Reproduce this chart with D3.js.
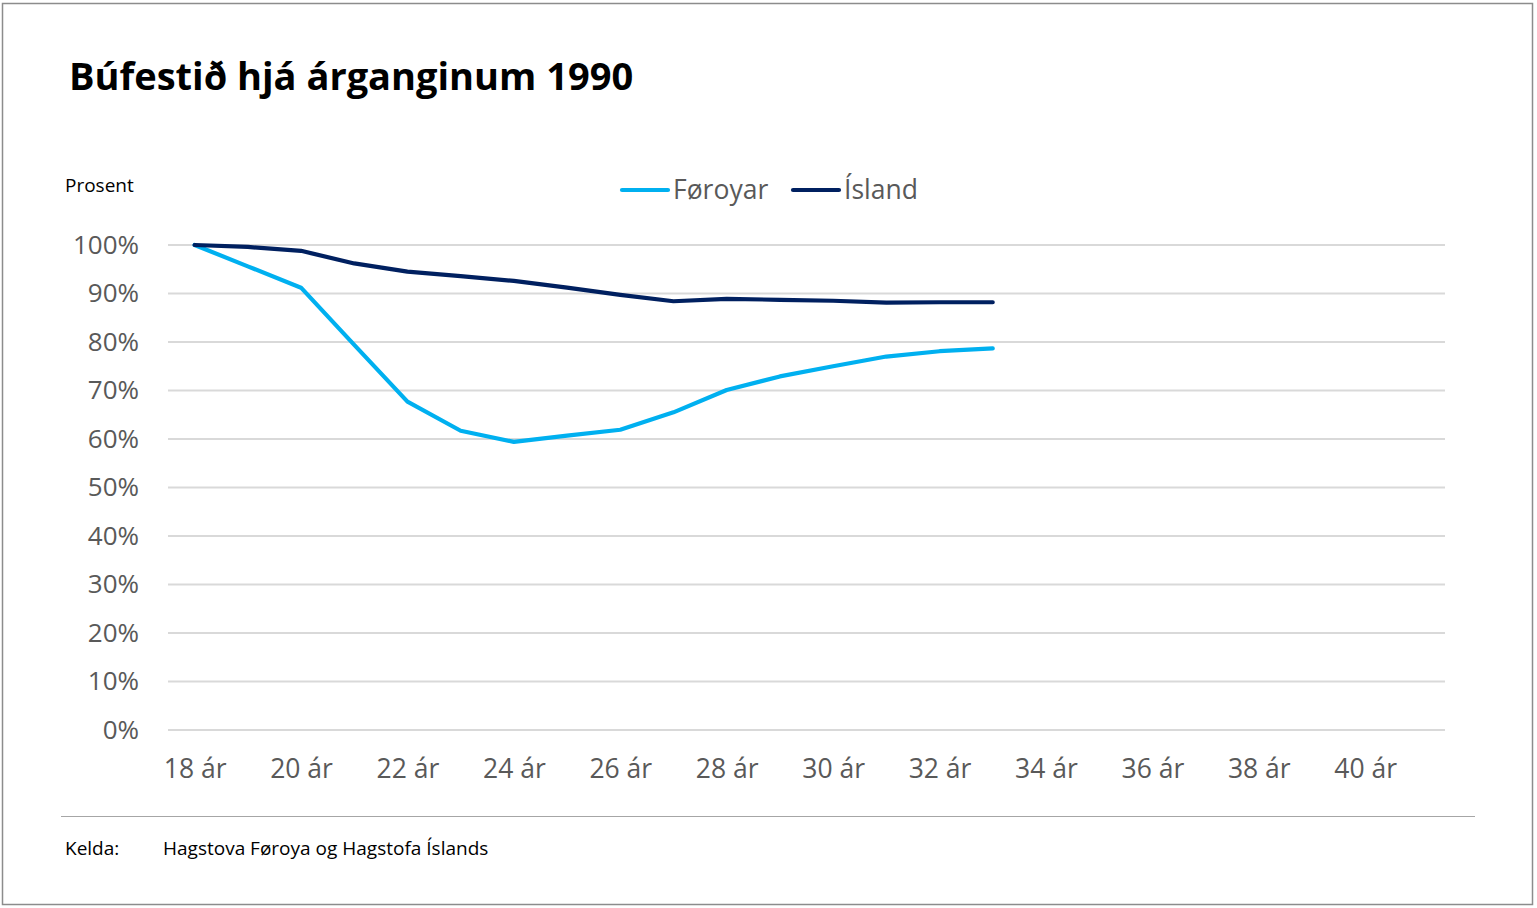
<!DOCTYPE html>
<html>
<head>
<meta charset="utf-8">
<script src="https://cdn.jsdelivr.net/npm/d3@7"></script>
<style>
  body { margin: 0; background: #fff; }
  svg text { font-family: "Open Sans", sans-serif; }
</style>
</head>
<body>
<div id="chart-container"></div>
<script>
// ages on the x axis (every year, labels on even years)
const ages = d3.range(18, 42);
const tickAges = [18, 20, 22, 24, 26, 28, 30, 32, 34, 36, 38, 40];
const yTicks = [0, 10, 20, 30, 40, 50, 60, 70, 80, 90, 100];

// share still living in the country, per cent
const foroyar = [100, 95.6, 91.2, 79.4, 67.7, 61.7, 59.4, 60.7, 61.9, 65.5, 70.1, 72.9, 75.0, 77.0, 78.1, 78.7];
const island = [100, 99.6, 98.8, 96.2, 94.5, 93.6, 92.6, 91.2, 89.7, 88.4, 88.9, 88.7, 88.5, 88.1, 88.2, 88.2];

const seriesNames = ["Føroyar", "Ísland"];
const seriesColors = ["#00b0f0", "#002060"];

const W = 1537, H = 908;
const plot = { left: 168, right: 1445, top: 245, bottom: 730 };

const svg = d3
  .select("#chart-container")
  .append("svg")
  .attr("width", W)
  .attr("height", H);

// outer frame
svg
  .append("rect")
  .attr("x", 2.5)
  .attr("y", 3.5)
  .attr("width", 1530)
  .attr("height", 901)
  .attr("fill", "#fff")
  .attr("stroke", "#8c8c8c")
  .attr("stroke-width", 1.5);

// title
svg
  .append("text")
  .attr("x", 69)
  .attr("y", 90)
  .attr("font-size", 38)
  .attr("font-weight", 700)
  .attr("fill", "#000")
  .text("Búfestið hjá árganginum 1990");

svg
  .append("text")
  .attr("x", 65)
  .attr("y", 192)
  .attr("font-size", 19)
  .attr("fill", "#000")
  .text("Prosent");

// scales
const xScale = d3.scalePoint().domain(ages).range([plot.left, plot.right]).padding(0.5);
const yScale = d3.scaleLinear().domain([0, 100]).range([plot.bottom, plot.top]);

// gridlines
svg
  .append("g")
  .attr("class", "grid")
  .selectAll("line")
  .data(yTicks)
  .join("line")
  .attr("x1", plot.left)
  .attr("x2", plot.right)
  .attr("y1", (d) => yScale(d))
  .attr("y2", (d) => yScale(d))
  .attr("stroke", "#d9d9d9")
  .attr("stroke-width", 2);

// y axis
const yAxisGroup = svg
  .append("g")
  .attr("transform", `translate(${plot.left},0)`)
  .call(
    d3.axisLeft(yScale)
      .tickValues(yTicks)
      .tickSize(0)
      .tickPadding(29)
      .tickFormat((d) => d + "%")
  );
yAxisGroup.select(".domain").remove();
yAxisGroup
  .selectAll("text")
  .attr("font-size", 26)
  .attr("fill", "#595959")
  .attr("font-family", "Open Sans, sans-serif");

// x axis
const xAxisGroup = svg
  .append("g")
  .attr("transform", `translate(0,${plot.bottom})`)
  .call(
    d3.axisBottom(xScale)
      .tickValues(tickAges)
      .tickSize(0)
      .tickPadding(29)
      .tickFormat((d) => d + " ár")
  );
xAxisGroup.select(".domain").remove();
xAxisGroup
  .selectAll("text")
  .attr("font-size", 26.5)
  .attr("fill", "#595959")
  .attr("font-family", "Open Sans, sans-serif");

// lines
const line = d3
  .line()
  .x((d, i) => xScale(ages[i]))
  .y((d) => yScale(d));

[foroyar, island].forEach((values, i) => {
  svg
    .append("path")
    .datum(values)
    .attr("fill", "none")
    .attr("stroke", seriesColors[i])
    .attr("stroke-width", 4.2)
    .attr("stroke-linejoin", "round")
    .attr("stroke-linecap", "round")
    .attr("d", line);
});

// legend
const legendX = [622, 793];
seriesNames.forEach((name, i) => {
  const g = svg.append("g").attr("transform", `translate(${legendX[i]},190)`);
  g.append("line")
    .attr("x1", 0)
    .attr("x2", 46)
    .attr("stroke", seriesColors[i])
    .attr("stroke-width", 4.2)
    .attr("stroke-linecap", "round");
  g.append("text")
    .attr("x", 51)
    .attr("y", 9)
    .attr("font-size", 26.5)
    .attr("fill", "#595959")
    .text(name);
});

// footer
svg
  .append("line")
  .attr("x1", 61)
  .attr("x2", 1475)
  .attr("y1", 816.5)
  .attr("y2", 816.5)
  .attr("stroke", "#a6a6a6")
  .attr("stroke-width", 1);

svg
  .append("text")
  .attr("x", 65)
  .attr("y", 855)
  .attr("font-size", 19)
  .attr("fill", "#000")
  .text("Kelda:");

svg
  .append("text")
  .attr("x", 163)
  .attr("y", 855)
  .attr("font-size", 19)
  .attr("fill", "#000")
  .text("Hagstova Føroya og Hagstofa Íslands");
</script>
</body>
</html>
